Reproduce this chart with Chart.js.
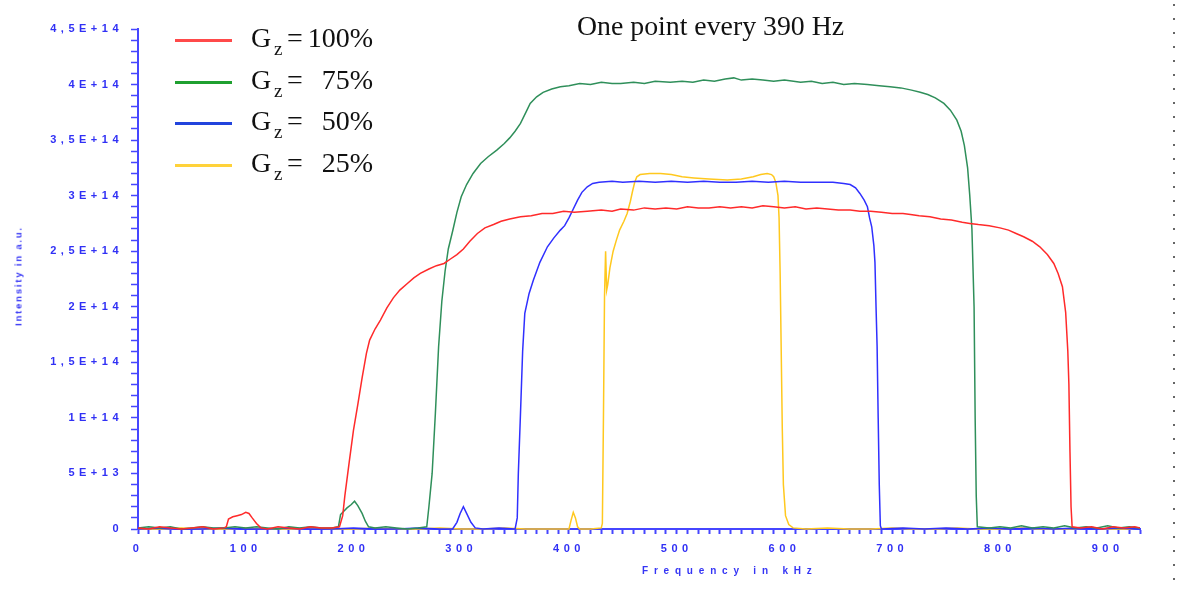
<!DOCTYPE html>
<html>
<head>
<meta charset="utf-8">
<script src="https://cdn.jsdelivr.net/npm/chart.js@4/dist/chart.umd.min.js"></script>
<style>
    html, body { margin: 0; padding: 0; background: #fff; }
    #wrap { position: relative; width: 1179px; height: 589px; overflow: hidden; }
    #chart { position: absolute; left: 0; top: 0; }
    .serif { font-family: "Liberation Serif", "Times New Roman", serif; color: #111; }
    #title { position: absolute; left: 577px; top: 12px; font-size: 27.8px; line-height: 28px; white-space: nowrap; }
    .row { position: absolute; left: 0; width: 400px; height: 28px; }
    .row .sw { position: absolute; left: 175px; width: 57px; height: 3px; }
    .row .g { position: absolute; left: 251px; font-size: 28px; line-height: 28px; top: 0; }
    .row .z { position: absolute; left: 274px; font-size: 19px; line-height: 19px; top: 15px; }
    .row .eq { position: absolute; left: 287px; font-size: 28px; line-height: 28px; top: 0; }
    .row .val { position: absolute; right: 27px; font-size: 28px; line-height: 28px; top: 0; }
    .axt { position: absolute; font-family: "Liberation Sans", Arial, sans-serif; font-weight: bold; color: #3535f5; white-space: nowrap; }
    #xt { left: 642px; top: 565px; font-size: 10px; letter-spacing: 5.8px; }
    #yt { left: 18px; top: 276px; font-size: 9.5px; letter-spacing: 1.8px; transform: translate(-50%, -50%) rotate(-90deg); }
    #dots { position: absolute; left: 1173px; top: 4px; width: 2px; height: 585px;
            background: repeating-linear-gradient(to bottom, #666 0 2px, transparent 2px 14px); }
</style>
</head>
<body>
<div id="wrap">
    <canvas id="chart"></canvas>
    <div id="title" class="serif">One point every 390 Hz</div>
    <div id="legend"></div>
    <div id="yt" class="axt">Intensity in a.u.</div>
    <div id="xt" class="axt">Frequency in kHz</div>
    <div id="dots"></div>
</div>
<script>
// Valores: [frequência em kHz, intensidade em unidades de 1E+14]
const gz100 = [[0,0.01],[10,0.00],[20,0.02],[30,0.01],[40,0.00],[50,0.01],[60,0.02],[70,0.00],[80,0.01],[82,0.02],[84,0.09],[88,0.11],[92,0.12],[96,0.13],[100,0.15],[103,0.14],[106,0.10],[110,0.05],[114,0.01],[120,0.00],[130,0.02],[140,0.01],[150,0.00],[160,0.02],[170,0.01],[180,0.01],[187,0.02],[190,0.12],[192,0.30],[196,0.60],[200,0.89],[204,1.12],[208,1.36],[212,1.58],[215,1.70],[220,1.80],[225,1.88],[231,1.99],[237,2.08],[243,2.15],[250,2.21],[256,2.26],[262,2.30],[270,2.34],[277,2.37],[284,2.39],[290,2.43],[296,2.47],[302,2.52],[308,2.59],[315,2.66],[322,2.71],[330,2.74],[337,2.77],[345,2.79],[355,2.81],[365,2.82],[375,2.84],[385,2.84],[395,2.86],[405,2.85],[417,2.86],[430,2.87],[440,2.86],[448,2.88],[460,2.87],[470,2.89],[480,2.88],[490,2.89],[500,2.88],[510,2.90],[520,2.89],[530,2.89],[540,2.90],[550,2.89],[560,2.90],[570,2.89],[580,2.91],[590,2.90],[600,2.89],[610,2.90],[620,2.88],[630,2.89],[640,2.88],[650,2.87],[661,2.87],[670,2.86],[680,2.86],[690,2.85],[700,2.84],[710,2.84],[717,2.83],[725,2.82],[735,2.81],[745,2.79],[755,2.78],[765,2.76],[772,2.75],[780,2.74],[790,2.73],[800,2.71],[808,2.69],[815,2.66],[822,2.63],[830,2.59],[837,2.54],[844,2.47],[850,2.39],[854,2.30],[858,2.18],[861,1.95],[863,1.60],[864,1.30],[865,0.70],[866,0.20],[867,0.02],[875,0.01],[885,0.02],[895,0.00],[905,0.02],[915,0.01],[925,0.02],[930,0.01]];

const gz75 = [[0,0.01],[10,0.02],[20,0.01],[30,0.02],[40,0.00],[50,0.01],[60,0.02],[70,0.01],[80,0.01],[90,0.02],[100,0.01],[110,0.02],[120,0.01],[130,0.00],[140,0.02],[150,0.01],[160,0.02],[170,0.01],[180,0.01],[186,0.02],[188,0.13],[191,0.16],[194,0.19],[198,0.22],[201,0.25],[204,0.21],[208,0.14],[211,0.07],[214,0.02],[220,0.01],[230,0.02],[240,0.01],[250,0.00],[260,0.01],[268,0.02],[270,0.20],[273,0.50],[276,1.04],[279,1.64],[282,2.05],[285,2.32],[288,2.52],[292,2.68],[296,2.85],[300,2.99],[305,3.10],[311,3.20],[318,3.29],[325,3.35],[333,3.41],[340,3.47],[345,3.52],[350,3.58],[355,3.65],[360,3.75],[364,3.83],[370,3.89],[376,3.93],[384,3.96],[392,3.98],[400,3.99],[410,4.01],[420,4.00],[430,4.02],[440,4.01],[448,4.01],[460,4.02],[470,4.01],[480,4.03],[494,4.02],[505,4.03],[515,4.02],[525,4.04],[535,4.03],[545,4.05],[553,4.06],[560,4.04],[570,4.05],[580,4.04],[590,4.03],[600,4.04],[615,4.02],[625,4.03],[635,4.01],[645,4.02],[655,4.00],[665,4.01],[677,4.00],[688,3.99],[698,3.98],[708,3.97],[718,3.95],[726,3.93],[733,3.91],[740,3.88],[748,3.83],[754,3.77],[760,3.68],[764,3.58],[767,3.45],[770,3.25],[772,3.00],[774,2.70],[776,2.00],[777,1.00],[778,0.30],[779,0.02],[790,0.01],[800,0.02],[810,0.01],[820,0.03],[830,0.01],[840,0.02],[850,0.01],[860,0.03],[870,0.01],[880,0.02],[890,0.01],[900,0.03],[910,0.01],[920,0.02],[930,0.01]];

const gz50 = [[0,0.00],[20,0.01],[40,0.00],[60,0.00],[80,0.01],[100,0.00],[120,0.00],[140,0.01],[160,0.00],[180,0.00],[200,0.01],[220,0.00],[240,0.00],[260,0.01],[280,0.00],[292,0.00],[296,0.06],[299,0.14],[302,0.20],[305,0.14],[309,0.06],[313,0.01],[320,0.00],[335,0.01],[350,0.00],[352,0.10],[353,0.50],[355,1.04],[357,1.60],[359,1.94],[363,2.12],[367,2.24],[373,2.40],[380,2.54],[386,2.62],[392,2.69],[396,2.73],[400,2.80],[404,2.88],[408,2.96],[412,3.03],[417,3.08],[422,3.11],[428,3.12],[440,3.13],[450,3.12],[465,3.13],[480,3.12],[495,3.13],[510,3.12],[525,3.13],[540,3.12],[555,3.12],[570,3.13],[585,3.12],[600,3.13],[615,3.12],[630,3.12],[645,3.12],[655,3.11],[661,3.10],[666,3.07],[670,3.02],[674,2.96],[677,2.90],[679,2.80],[681,2.72],[683,2.55],[684,2.40],[685,2.00],[686,1.64],[687,1.00],[688,0.40],[689,0.03],[690,0.00],[710,0.01],[730,0.00],[750,0.01],[770,0.00],[790,0.01],[810,0.00],[830,0.01],[850,0.00],[870,0.01],[890,0.00],[910,0.01],[930,0.00]];

const gz25 = [[0,0.00],[20,0.00],[40,0.01],[60,0.00],[80,0.00],[100,0.01],[120,0.00],[140,0.00],[160,0.01],[180,0.00],[200,0.00],[220,0.01],[240,0.00],[260,0.00],[280,0.01],[300,0.00],[320,0.00],[340,0.01],[360,0.00],[380,0.00],[400,0.00],[402,0.08],[404,0.15],[406,0.10],[408,0.02],[410,0.00],[420,0.00],[430,0.01],[431,0.05],[432,1.00],[433,2.10],[434,2.50],[435,2.15],[436,2.20],[438,2.35],[441,2.50],[444,2.60],[447,2.69],[451,2.77],[454,2.84],[457,2.95],[459,3.04],[461,3.12],[463,3.17],[466,3.19],[475,3.20],[485,3.20],[495,3.19],[505,3.17],[516,3.16],[530,3.15],[547,3.14],[560,3.15],[571,3.17],[578,3.19],[584,3.20],[588,3.19],[590,3.17],[592,3.12],[594,3.00],[595,2.80],[596,2.30],[597,1.60],[598,0.90],[599,0.40],[601,0.12],[604,0.04],[608,0.01],[620,0.00],[640,0.01],[660,0.00],[680,0.00],[700,0.01],[720,0.00],[740,0.00],[760,0.01],[780,0.00],[800,0.00],[820,0.01],[840,0.00],[860,0.00],[880,0.01],[900,0.00],[920,0.00],[930,0.01]];

const seriesLabels = ['100%', '75%', '50%', '25%'];
const lineColors = ['#ff2a2a', '#2f8f5a', '#3030ff', '#ffc81e'];
const legendColors = ['#ff4a4a', '#1fa030', '#2244dd', '#ffd23a'];

const AXIS_BLUE = '#4646ff';
const LABEL_BLUE = '#3030f5';

// Rótulos do eixo Y no formato do original (4,5E+14 ...)
function sciLabel(v) {
    const n = Math.round(v * 10);
    if (n === 0) return '0';
    if (n % 5 !== 0) return '';
    if (n < 10) return n + 'E+13';
    return String(n / 10).replace('.', ',') + 'E+14';
}

// Legenda em HTML (precisa do índice z)
const legendEl = document.getElementById('legend');
const rowTops = [24, 66, 107, 149];
seriesLabels.forEach((lab, i) => {
    const row = document.createElement('div');
    row.className = 'row serif';
    row.style.top = rowTops[i] + 'px';
    row.innerHTML =
        '<div class="sw" style="top:15px;background:' + legendColors[i] + '"></div>' +
        '<span class="g">G</span><span class="z">z</span>' +
        '<span class="eq">=</span><span class="val">' + lab + '</span>';
    legendEl.appendChild(row);
});

const allSeries = [gz100, gz75, gz50, gz25];

// Espaçamento largo entre letras nos rótulos dos eixos
const spacingPlugin = {
    id: 'spacing',
    beforeDraw(chart) { chart.ctx.letterSpacing = '4.5px'; },
    beforeDatasetsDraw(chart) { chart.ctx.letterSpacing = '0px'; }
};

new Chart(document.getElementById('chart').getContext('2d'), {
    type: 'line',
    data: {
        datasets: allSeries.map((s, i) => ({
            label: 'Gz = ' + seriesLabels[i],
            data: s.map(([f, v]) => ({ x: f, y: v })),
            borderColor: lineColors[i],
            borderWidth: 1.5,
            pointRadius: 0,
            tension: 0,
            clip: 6
        }))
    },
    options: {
        responsive: true,
        maintainAspectRatio: false,
        animation: false,
        layout: { padding: { left: 0, top: 29, right: 39, bottom: 0 } },
        plugins: {
            legend: { display: false },
            tooltip: { enabled: false }
        },
        scales: {
            x: {
                type: 'linear',
                min: 0,
                max: 930,
                afterFit: scale => { scale.height = 60; },
                border: { display: true, color: AXIS_BLUE, width: 2 },
                grid: { drawOnChartArea: false, drawTicks: true, tickLength: 5, color: AXIS_BLUE, tickWidth: 2 },
                ticks: {
                    stepSize: 10,
                    autoSkip: false,
                    maxRotation: 0,
                    padding: 8,
                    color: LABEL_BLUE,
                    font: { family: 'Liberation Sans', size: 11, weight: 'bold' },
                    callback: v => (Math.round(v) % 100 === 0 ? String(Math.round(v)) : '')
                }
            },
            y: {
                min: 0,
                max: 4.5,
                afterFit: scale => { scale.width = 138; },
                border: { display: true, color: AXIS_BLUE, width: 2 },
                grid: { drawOnChartArea: false, drawTicks: true, tickLength: 7, color: AXIS_BLUE, tickWidth: 1.5 },
                ticks: {
                    stepSize: 0.1,
                    autoSkip: false,
                    padding: 8,
                    color: LABEL_BLUE,
                    font: { family: 'Liberation Sans', size: 11, weight: 'bold' },
                    callback: v => sciLabel(v)
                }
            }
        }
    },
    plugins: [spacingPlugin]
});
</script>
</body>
</html>
